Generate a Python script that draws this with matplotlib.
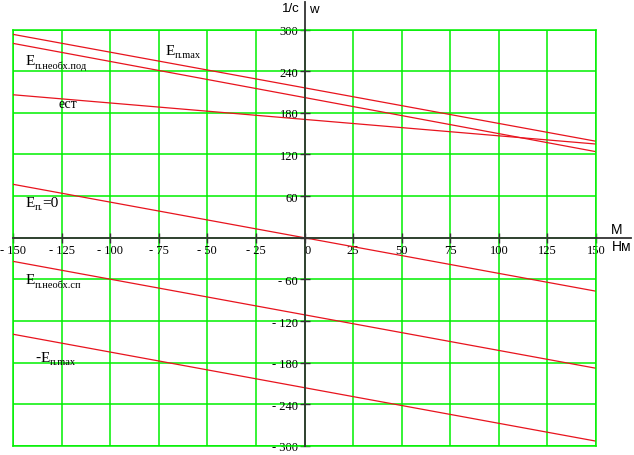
import matplotlib.pyplot as plt
from matplotlib.transforms import offset_copy

# torque M, N*m (line end points)
M = [-150, 150]

# speed w, 1/s
w_max = [293, 139]
w_pod = [280, 124]
w_est = [206, 135]
w_zero = [77, -77]
w_sp = [-34, -188]
w_neg_max = [-139, -293]

x_ticks = list(range(-150, 151, 25))
y_ticks = list(range(-300, 301, 60))

# (prefix, main letter, subscript, suffix)
curve_labels = [("", "E", "п.max", ""), ("", "E", "п.необх.под", ""), ("", "ест", "", ""),
                ("", "E", "п.", "=0"), ("", "E", "п.необх.сп", ""), ("-", "E", "п.max", "")]


def fmt(v):
    if v < 0:
        return "- %d" % -v
    if v == 0:
        return ""
    return "%d" % v


def main():
    plt.rcParams["font.family"] = ["Liberation Serif", "DejaVu Serif"]

    W, H = 634, 456
    fig = plt.figure(figsize=(W / 100, H / 100), dpi=100)
    ax = fig.add_axes([13 / W, 1 - 447 / H, 583 / W, (447 - 30.5) / H])
    ax.set_xlim(-150, 150)
    ax.set_ylim(-300, 300)

    green = "#00f000"
    ax.set_xticks(x_ticks)
    ax.set_yticks(y_ticks)
    ax.grid(True, color=green, lw=1.1)
    ax.set_axisbelow(True)
    # plot border, same green as the grid
    ax.axvline(-150, color=green, lw=1.1, clip_on=False, zorder=1)
    ax.axhline(-300, color=green, lw=1.1, clip_on=False, zorder=1)

    for s in ["top", "right"]:
        ax.spines[s].set_color(green)
        ax.spines[s].set_linewidth(1.1)
    axc = "#333333"
    ax.spines["left"].set_position(("data", 0))
    ax.spines["bottom"].set_position(("data", 0))
    for s in ["left", "bottom"]:
        ax.spines[s].set_color(axc)
        ax.spines[s].set_linewidth(1.3)
        ax.spines[s].set_zorder(3)
    # axis extensions beyond the grid
    ax.plot([0, 0], [300, 340], color=axc, lw=1.3, clip_on=False, zorder=3)
    ax.plot([150, 168], [0, 0], color=axc, lw=1.3, clip_on=False, zorder=3)

    ax.tick_params(direction="inout", length=7, width=1, color=axc,
                   labelsize=9, pad=1)
    ax.set_xticklabels([fmt(v) if v != 0 else "0" for v in x_ticks])
    ax.set_yticklabels([fmt(v) for v in y_ticks])
    for v, lab in zip(x_ticks, ax.get_xticklabels()):
        if v == 0:
            lab.set_horizontalalignment("left")

    red = "#e8141e"
    for w in [w_max, w_pod, w_est, w_zero, w_sp, w_neg_max]:
        ax.plot(M, w, color=red, lw=0.9, zorder=2)

    # curve labels: big letter + small subscript drawn next to it
    label_pos = [(-71.3, 264.7), (-143.3, 250), (-126.8, 188.3),
                 (-143.3, 46), (-143.3, -65.7), (-138.5, -177)]
    for (x, y), (pre, main_t, sub, suf) in zip(label_pos, curve_labels):
        if not sub:
            ax.text(x, y, main_t, fontsize=10, ha="left", va="baseline", zorder=4)
            continue
        dx = 0
        if pre:
            ax.text(x, y, pre, fontsize=11, ha="left", va="baseline", zorder=4)
            dx += 3.8
        tr = offset_copy(ax.transData, fig=fig, x=dx, y=0, units="points")
        ax.text(x, y, main_t, fontsize=11, ha="left", va="baseline", zorder=4, transform=tr)
        dx += 6.6
        tr = offset_copy(ax.transData, fig=fig, x=dx, y=-2.5, units="points")
        ax.text(x, y, sub, fontsize=7.5, ha="left", va="baseline", zorder=4, transform=tr)
        if suf:
            tr = offset_copy(ax.transData, fig=fig, x=dx + 5.2, y=0, units="points")
            ax.text(x, y, suf, fontsize=11, ha="left", va="baseline", zorder=4, transform=tr)

    sans = "Liberation Sans"
    fig.text(291 / W, 1 - 9 / H, "1/с", family=sans, fontsize=9.5, ha="center", va="center")
    fig.text(314 / W, 1 - 10 / H, "w", family=sans, fontsize=9.5, ha="center", va="center")
    fig.text(617 / W, 1 - 230 / H, "М", family=sans, fontsize=10, ha="center", va="center")
    fig.text(622 / W, 1 - 247 / H, "Нм", family=sans, fontsize=10, ha="center", va="center")

    fig.savefig("out.png", dpi=100)


if __name__ == "__main__":
    main()
